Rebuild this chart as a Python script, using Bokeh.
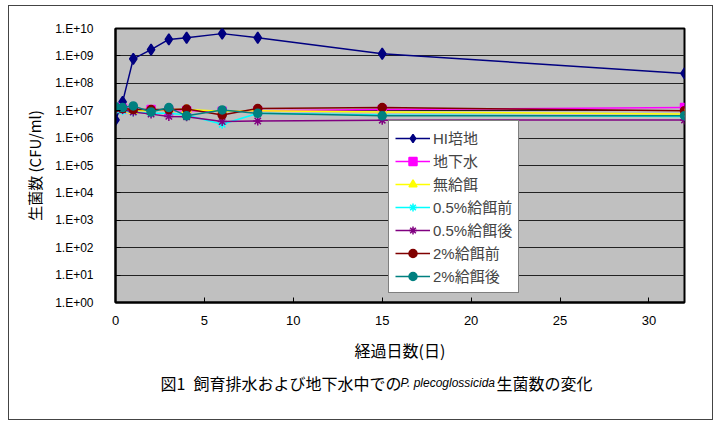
from bokeh.plotting import figure
from bokeh.layouts import column
from bokeh.models import Range1d, FixedTicker, CustomJSTickFormatter, Label, Legend
from bokeh.embed import file_html
from bokeh.resources import INLINE

days = [0, 0.4, 1, 2, 3, 4, 6, 8, 15, 32]
hi_medium = [4.6e6, 2.1e7, 7.8e8, 1.7e9, 4.0e9, 4.6e9, 6.5e9, 4.6e9, 1.2e9, 2.3e8]
groundwater = [1.3e7, 1.2e7, 1.1e7, 1.1e7, 1.0e7, 1.0e7, 9.5e6, 1.0e7, 1.1e7, 1.3e7]
no_feed = [1.2e7, 1.1e7, 1.0e7, 1.0e7, 1.1e7, 1.1e7, 9.5e6, 1.0e7, 9.0e6, 7.6e6]
pre_05 = [1.1e7, 1.0e7, 9.0e6, 8.0e6, 8.0e6, 7.0e6, 3.2e6, 8.0e6, 7.0e6, 6.2e6]
post_05 = [1.2e7, 1.1e7, 9.0e6, 7.5e6, 6.2e6, 6.0e6, 4.0e6, 4.2e6, 4.5e6, 4.6e6]
pre_2 = [1.3e7, 1.2e7, 1.1e7, 1.1e7, 1.1e7, 1.15e7, 7.0e6, 1.2e7, 1.3e7, 1.0e7]
post_2 = [1.4e7, 1.3e7, 1.5e7, 9.0e6, 1.3e7, 6.5e6, 1.07e7, 8.0e6, 6.5e6, 6.6e6]

series_names = ["HI培地", "地下水", "無給餌", "0.5%給餌前", "0.5%給餌後", "2%給餌前", "2%給餌後"]
series_values = [hi_medium, groundwater, no_feed, pre_05, post_05, pre_2, post_2]
series_colors = ["#000080", "#FF00FF", "#FFFF00", "#00FFFF", "#800080", "#800000", "#008080"]
series_markers = ["diamond", "square", "triangle", "asterisk", "asterisk", "circle", "circle"]
series_sizes = [11, 8, 9, 9, 9, 8, 8]

x_ticks = [0, 5, 10, 15, 20, 25, 30]
y_ticks = [1, 1e1, 1e2, 1e3, 1e4, 1e5, 1e6, 1e7, 1e8, 1e9, 1e10]

x_title = "経過日数(日)"
y_title = "生菌数 (CFU/ml)"
caption_a = "図1\u2002飼育排水および地下水中での"
caption_b = "P. plecoglossicida"
caption_c = "生菌数の変化"

LAT = "'Liberation Sans', 'Noto Sans CJK JP', sans-serif"
CJK = "'Noto Sans CJK JP', 'Liberation Sans', sans-serif"

p = figure(width=703, height=360, output_backend="svg", toolbar_location=None,
           y_axis_type="log", x_range=Range1d(0, 32), y_range=Range1d(1, 1e10),
           min_border_left=106, min_border_right=28, min_border_top=22, min_border_bottom=64)
p.background_fill_color = "#C0C0C0"
p.border_fill_color = "white"
p.outline_line_color = "black"
p.outline_line_width = 2

p.xgrid.grid_line_color = None
p.ygrid.grid_line_color = "#222222"
p.ygrid.grid_line_width = 1

p.xaxis.ticker = FixedTicker(ticks=x_ticks)
p.yaxis.ticker = FixedTicker(ticks=y_ticks)
p.yaxis.formatter = CustomJSTickFormatter(code="""
const e = Math.round(Math.log10(tick));
return "1.E+" + (e < 10 ? "0" + e : "" + e);
""")
for ax in (p.xaxis[0], p.yaxis[0]):
    ax.axis_line_color = "black"
    ax.axis_line_width = 2
    ax.major_tick_line_color = "black"
    ax.major_tick_in = 5
    ax.major_tick_out = 0
    ax.minor_tick_line_color = None
    ax.major_label_text_font = LAT
    ax.major_label_text_font_size = "12px"
    ax.major_label_text_color = "black"
    ax.axis_label_text_font = CJK
    ax.axis_label_text_font_style = "normal"
    ax.axis_label_text_color = "black"
p.xaxis.major_label_text_font_size = "13px"
p.xaxis.axis_label_text_font_size = "16px"
p.yaxis.axis_label_text_font_size = "15px"
p.xaxis.major_label_standoff = 13
p.yaxis.major_label_standoff = 22
p.xaxis.axis_label = x_title
p.yaxis.axis_label = y_title
p.xaxis.axis_label_standoff = 10
p.yaxis.axis_label_standoff = 7

items = []
for name, vals, col, mk, sz in zip(series_names, series_values, series_colors, series_markers, series_sizes):
    r1 = p.line(days, vals, line_color=col, line_width=1.5)
    r2 = p.scatter(days, vals, marker=mk, size=sz, fill_color=col, line_color=col, line_width=1.5)
    items.append((name, [r1, r2]))

legend = Legend(items=items, location=(273, 9))
legend.background_fill_color = "white"
legend.background_fill_alpha = 1
legend.border_line_color = "black"
legend.border_line_width = 1
legend.label_text_font = LAT
legend.label_text_font_size = "15px"
legend.glyph_width = 35
legend.glyph_height = 20
legend.label_height = 20
legend.spacing = 2
legend.padding = 6
legend.margin = 0
legend.label_standoff = 3
p.add_layout(legend, "center")

# caption strip below the chart (its frame is aligned with the chart frame by the column)
cap = figure(width=703, height=53, output_backend="svg", toolbar_location=None,
             x_range=Range1d(115, 684), y_range=Range1d(0, 53),
             min_border=0, min_border_left=0, min_border_right=0,
             min_border_top=0, min_border_bottom=0)
cap.axis.visible = False
cap.grid.visible = False
cap.outline_line_color = None
cap.background_fill_color = "white"
cap.border_fill_color = "white"
cap_y = 37
cap.add_layout(Label(x=160, y=cap_y, text=caption_a, text_font=CJK, text_font_size="16px",
                     text_baseline="middle", text_align="left", text_color="black"))
cap.add_layout(Label(x=400, y=cap_y, text=caption_b, text_font=LAT, text_font_size="12px",
                     text_font_style="italic", text_baseline="middle", text_align="left",
                     text_color="black"))
cap.add_layout(Label(x=496, y=cap_y, text=caption_c, text_font=CJK, text_font_size="16px",
                     text_baseline="middle", text_align="left", text_color="black"))

page = column(p, cap, spacing=0,
              styles={"border": "1px solid #444", "margin-left": "8px", "margin-top": "5px"})

open("out.html", "w").write(file_html(page, INLINE))
